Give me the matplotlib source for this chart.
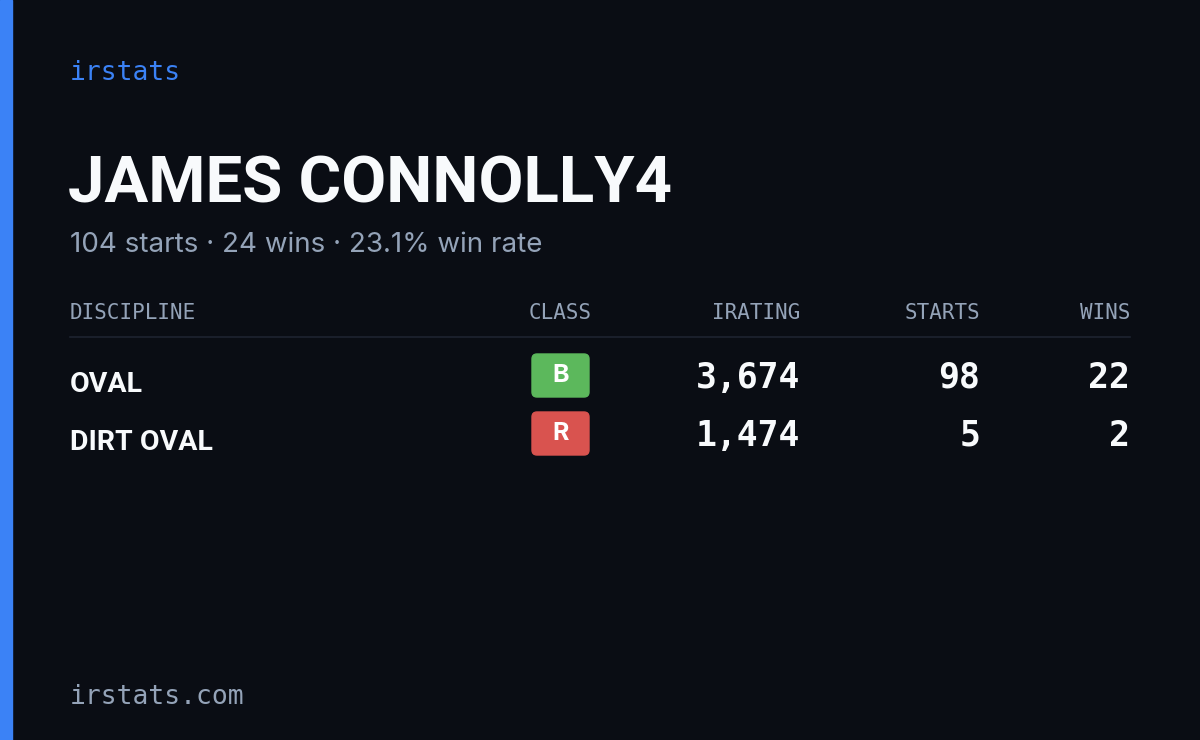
import matplotlib
matplotlib.use("Agg")
import matplotlib.pyplot as plt
from matplotlib.patches import FancyBboxPatch, Rectangle

driver = "JAMES CONNOLLY4"
total_starts = 104
total_wins = 24
win_rate = 23.1
disciplines = ["OVAL", "DIRT OVAL"]
classes = ["B", "R"]
class_colors = ["#5cb85c", "#d9534f"]
iratings = [3674, 1474]
starts = [98, 5]
wins = [22, 2]
headers = ["DISCIPLINE", "CLASS", "IRATING", "STARTS", "WINS"]

W, H = 1200, 740
fig = plt.figure(figsize=(12, 7.4), dpi=100)
fig.patch.set_facecolor("#0a0d14")
ax = fig.add_axes([0, 0, 1, 1])
ax.set_xlim(0, W); ax.set_ylim(H, 0); ax.axis("off")
ax.set_facecolor("#0a0d14")

mono = ["DejaVu Sans Mono"]
cond = ["Roboto", "DejaVu Sans"]
sans = ["Inter", "DejaVu Sans"]
grey = "#94a3b8"

ax.add_patch(Rectangle((0, 0), 12, H, color="#3b82f6"))
ax.text(70, 73, "irstats", family=mono, fontsize=19, color="#3b82f6", va="center")
ax.text(68, 185, driver, family=cond, fontweight="bold", fontsize=47, color="#f8fafc", va="center")
ax.text(70, 245, f"{total_starts} starts · {total_wins} wins · {win_rate}% win rate",
        family=sans, fontsize=20, color=grey, va="center")

hx = [(70, "left"), (560, "center"), (800, "right"), (980, "right"), (1130, "right")]
for (x, ha), h in zip(hx, headers):
    ax.text(x, 313, h, family=mono, fontsize=15, color=grey, va="center", ha=ha)
ax.plot([70, 1130], [337, 337], color="#1e2330", lw=1.2)

for i, d in enumerate(disciplines):
    y = 380 + 58 * i
    ax.text(70, y + 4, d, family=cond, fontweight="bold", fontsize=20.5, color="#f8fafc", va="center")
    ax.add_patch(FancyBboxPatch((532 + 5, y - 26 + 5), 57 - 10, 43 - 10,
                                boxstyle="round,pad=5", color=class_colors[i]))
    ax.text(560.5, y - 4, classes[i], family=sans, fontweight="bold", fontsize=18,
            color="white", va="center", ha="center")
    for x, v in [(800, f"{iratings[i]:,}"), (980, str(starts[i])), (1130, str(wins[i]))]:
        ax.text(x, y - 2, v, family=mono, fontweight="bold", fontsize=25,
                color="#f8fafc", va="center", ha="right")

ax.text(70, 697, "irstats.com", family=mono, fontsize=19, color=grey, va="center")
fig.savefig("out.png", dpi=100, facecolor=fig.get_facecolor())
